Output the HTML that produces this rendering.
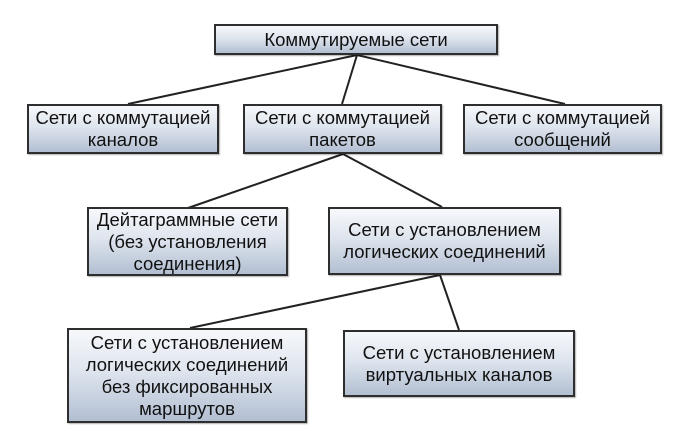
<!DOCTYPE html>
<html><head><meta charset="utf-8"><style>
html,body{margin:0;padding:0;background:#fff;}
body{width:694px;height:440px;position:relative;overflow:hidden;font-family:"Liberation Sans",sans-serif;}
.b{position:absolute;box-sizing:border-box;border:2px solid #2e2e2e;background:linear-gradient(#f6f8fb,#dfe5ee 45%,#b2bfd2);display:flex;align-items:center;justify-content:center;text-align:center;font-size:18.5px;line-height:22px;color:#111;box-shadow:1px 1px 1px rgba(0,0,0,0.3);white-space:nowrap;}
svg{position:absolute;left:0;top:0;}
</style></head><body>
<svg width="694" height="440"><g stroke="#222" stroke-width="2" fill="none">
<line x1="357" y1="55" x2="128" y2="104"/>
<line x1="357" y1="55" x2="342" y2="104"/>
<line x1="357" y1="55" x2="565" y2="104"/>
<line x1="343" y1="154" x2="188" y2="208"/>
<line x1="343" y1="154" x2="442" y2="207"/>
<line x1="440" y1="275" x2="190" y2="328"/>
<line x1="440" y1="275" x2="459" y2="330"/>
</g></svg>
<div class="b" style="left:214px;top:24px;width:284px;height:31px;">Коммутируемые сети</div>
<div class="b" style="left:27px;top:104px;width:192px;height:50px;">Сети с коммутацией<br>каналов</div>
<div class="b" style="left:243px;top:104px;width:199px;height:50px;">Сети с коммутацией<br>пакетов</div>
<div class="b" style="left:463px;top:104px;width:199px;height:50px;">Сети с коммутацией<br>сообщений</div>
<div class="b" style="left:87px;top:207px;width:201px;height:69px;">Дейтаграммные сети<br>(без установления<br>соединения)</div>
<div class="b" style="left:328px;top:207px;width:233px;height:68px;">Сети с установлением<br>логических соединений</div>
<div class="b" style="left:67px;top:328px;width:240px;height:95px;">Сети с установлением<br>логических соединений<br>без фиксированных<br>маршрутов</div>
<div class="b" style="left:343px;top:330px;width:232px;height:67px;">Сети с установлением<br>виртуальных каналов</div>
</body></html>
